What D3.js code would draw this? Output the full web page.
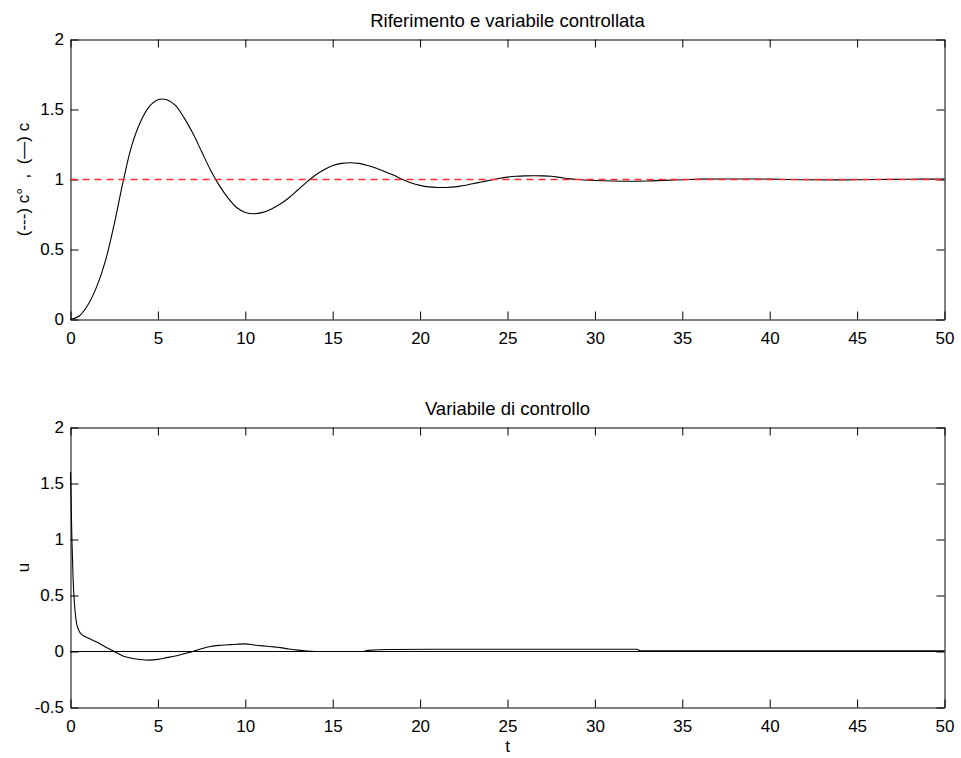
<!DOCTYPE html>
<html>
<head>
<meta charset="utf-8">
<script src="https://cdn.jsdelivr.net/npm/d3@7"></script>
<style>
  body { margin: 0; background: #fff; }
  svg { display: block; font-family: "Liberation Sans", Arial, sans-serif; }
  .axis text { font-size: 17px; fill: #000; }
  .axis path, .axis line { stroke: #000; }
</style>
</head>
<body>
<svg id="chart"></svg>
<script>

// time samples and controlled variable c(t)
var tC = [0, 0.5, 1, 1.5, 2, 2.5, 3, 3.5, 4, 4.5, 5, 5.5, 6, 6.5, 7, 7.5, 8, 8.5, 9, 9.5,
  10, 10.5, 11, 11.5, 12, 12.5, 13, 13.5, 14, 14.5, 15, 15.5, 16, 16.5, 17, 17.5, 18, 18.5, 19, 19.5,
  20, 20.5, 21, 21.5, 22, 22.5, 23, 23.5, 24, 24.5, 25, 25.5, 26, 26.5, 27, 27.5, 28, 28.5, 29,
  30, 31, 32, 33, 34, 35, 36, 38, 40, 42, 44, 46, 48, 50]
var cVal = [0, 0.025, 0.105, 0.235, 0.42, 0.68, 0.98, 1.24, 1.41, 1.52, 1.57, 1.57, 1.53, 1.44, 1.33, 1.2, 1.07, 0.96, 0.87, 0.8,
  0.765, 0.755, 0.765, 0.79, 0.825, 0.87, 0.925, 0.98, 1.03, 1.07, 1.1, 1.115, 1.12, 1.115, 1.1, 1.08, 1.055, 1.03, 1.0, 0.975,
  0.958, 0.947, 0.943, 0.943, 0.947, 0.957, 0.97, 0.982, 0.995, 1.007, 1.017, 1.023, 1.026, 1.027, 1.026, 1.023, 1.015, 1.006, 1.0,
  0.993, 0.989, 0.987, 0.989, 0.994, 0.998, 1.003, 1.004, 1.003, 0.998, 0.997, 1.0, 1.002, 1.003]

// reference c° (red dashed)
var tRef = [0, 50]
var refVal = [1, 1]

// control variable u(t) (bottom panel)
var tU = [0, 0.08, 0.15, 0.25, 0.35, 0.5, 0.7, 1, 1.5, 2, 2.5, 3, 3.5, 4, 4.5, 5, 5.5, 6, 6.5, 7, 7.5, 8, 8.5, 9, 9.5,
  10, 10.5, 11, 11.5, 12, 12.5, 13, 13.5, 14, 16.7, 17, 18.3, 22.3, 30, 32.4, 32.6, 50]
var uVal = [1.6, 1.0, 0.64, 0.38, 0.25, 0.18, 0.145, 0.12, 0.085, 0.04, 0.0, -0.04, -0.06, -0.072, -0.077, -0.07, -0.055, -0.04, -0.02, 0.0, 0.025, 0.045, 0.055, 0.06, 0.065,
  0.068, 0.058, 0.05, 0.043, 0.035, 0.022, 0.012, 0.004, 0.0, 0.0, 0.01, 0.018, 0.02, 0.02, 0.02, 0.006, 0.006]

// zero line in the bottom panel
var tZero = [0, 50]
var zeroVal = [0, 0]

var xTicks = [0, 5, 10, 15, 20, 25, 30, 35, 40, 45, 50]
var yTicksTop = [0, 0.5, 1, 1.5, 2]
var yTicksBot = [-0.5, 0, 0.5, 1, 1.5, 2]

var width = 961
var height = 758
var left = 70.5, right = 944.5

var svg = d3.select("#chart").attr("width", width).attr("height", height)
svg.append("rect").attr("width", width).attr("height", height).attr("fill", "#fff")

var x = d3.scaleLinear().domain([0, 50]).range([left, right])

function fmt(d) { return String(d).replace("\u2212", "-") }

function panel(top, bottom, yDomain, yTicks, title, ylabel, showXLabel) {
  var y = d3.scaleLinear().domain(yDomain).range([bottom, top])
  var g = svg.append("g")

  g.append("g").attr("class", "axis").attr("transform", "translate(0," + bottom + ")")
    .call(d3.axisBottom(x).tickValues(xTicks).tickSize(-8).tickSizeOuter(0).tickPadding(12.5).tickFormat(fmt))
  g.append("g").attr("class", "axis").attr("transform", "translate(0," + top + ")")
    .call(d3.axisTop(x).tickValues(xTicks).tickSize(-8).tickSizeOuter(0).tickFormat(""))
  g.append("g").attr("class", "axis").attr("transform", "translate(" + left + ",0)")
    .call(d3.axisLeft(y).tickValues(yTicks).tickSize(-8).tickSizeOuter(0).tickPadding(6.5).tickFormat(fmt))
  g.append("g").attr("class", "axis").attr("transform", "translate(" + right + ",0)")
    .call(d3.axisRight(y).tickValues(yTicks).tickSize(-8).tickSizeOuter(0).tickFormat(""))

  g.selectAll(".axis text").attr("font-family", "Liberation Sans, Arial, sans-serif")

  g.append("text")
    .attr("x", (left + right) / 2)
    .attr("y", top - 13)
    .attr("text-anchor", "middle")
    .attr("font-size", 18.5)
    .text(title)

  g.append("text")
    .attr("transform", "translate(29," + (top + bottom) / 2 + ") rotate(-90)")
    .attr("text-anchor", "middle")
    .attr("font-size", 17)
    .text(ylabel)

  if (showXLabel) {
    g.append("text")
      .attr("x", (left + right) / 2)
      .attr("y", bottom + 44)
      .attr("text-anchor", "middle")
      .attr("font-size", 17)
      .text("t")
  }
  return y
}

var yTop = panel(39.5, 319.5, [0, 2], yTicksTop, "Riferimento e variabile controllata",
  "(---) c\u00b0\u00a0\u00a0,\u00a0\u00a0(\u2014) c", false)
var yBot = panel(427.5, 707.5, [-0.5, 2], yTicksBot, "Variabile di controllo", "u", true)

function drawLine(ts, vs, y, color, dash, curve, sw) {
  var line = d3.line()
    .x(function(d) { return x(d[0]) })
    .y(function(d) { return y(d[1]) })
    .curve(curve)
  svg.append("path")
    .datum(ts.map(function(t, i) { return [t, vs[i]] }))
    .attr("d", line)
    .attr("fill", "none")
    .attr("stroke", color)
    .attr("stroke-width", sw)
    .attr("stroke-dasharray", dash)
}

drawLine(tC, cVal, yTop, "#000", null, d3.curveCatmullRom.alpha(0.5), 1.1)
drawLine(tRef, refVal, yTop, "#ff2a2a", "7,5", d3.curveLinear, 1.6)
drawLine(tZero, zeroVal, yBot, "#000", null, d3.curveLinear, 1)
drawLine(tU, uVal, yBot, "#000", null, d3.curveMonotoneX, 1.1)

</script>
</body>
</html>
